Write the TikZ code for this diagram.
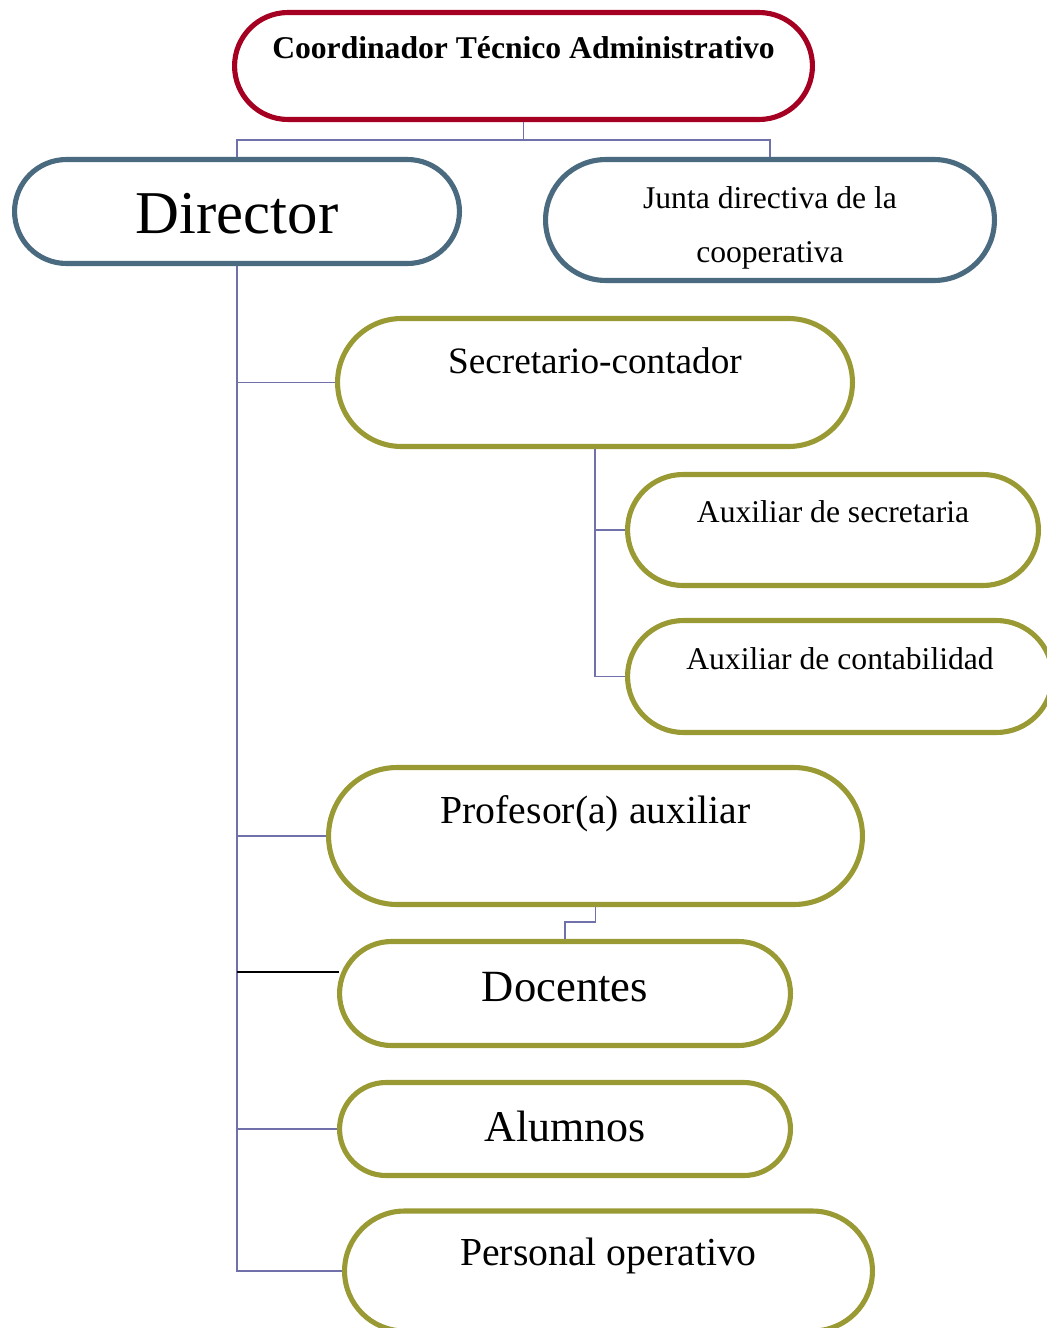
\documentclass[tikz,border=0pt]{standalone}
\usepackage{fontspec}
\setmainfont{Liberation Serif}
\usetikzlibrary{shapes.misc}

\definecolor{boxred}{RGB}{165,0,33}
\definecolor{boxslate}{RGB}{74,106,128}
\definecolor{boxolive}{RGB}{154,154,53}
\definecolor{linkblue}{RGB}{112,112,170}

\begin{document}
\begin{tikzpicture}[
    x=0.02cm,
    y=-0.02cm,
    box/.style={rounded rectangle, draw=#1, line width=2.9pt, fill=white, inner sep=0pt},
    link/.style={draw=linkblue, line width=1pt},
    txt/.style={font=\fontsize{#1}{#1}\selectfont},
]
    \useasboundingbox (0,0) rectangle (1047,1328);

    \node[box=boxred,   minimum width=11.56cm, minimum height=2.14cm,
          label={[font=\fontsize{18}{18}\selectfont\bfseries, yshift=0.36cm]center:Coordinador Técnico Administrativo}]
          (coord) at (523.5,66) {};
    \node[box=boxslate, minimum width=8.9cm,   minimum height=2.08cm,
          label={[txt=34.6, yshift=-0.04cm]center:Director}]
          (director) at (237,211.5) {};
    \node[box=boxslate, minimum width=8.98cm,  minimum height=2.42cm,
          label={[font=\fontsize{18}{31}\selectfont, align=center, yshift=-0.16cm]center:Junta directiva de la\\cooperativa}]
          (junta) at (770,220) {};

    \node[box=boxolive, minimum width=10.3cm,  minimum height=2.56cm,
          label={[txt=21.2, yshift=0.44cm]center:Secretario-contador}]
          (secretario) at (595,382.5) {};
    \node[box=boxolive, minimum width=8.22cm,  minimum height=2.22cm,
          label={[txt=18, yshift=0.36cm]center:Auxiliar de secretaria}]
          (auxsec) at (833,530) {};
    \node[box=boxolive, minimum width=8.5cm,   minimum height=2.24cm,
          label={[txt=18, yshift=0.36cm]center:Auxiliar de contabilidad}]
          (auxcont) at (840,676.5) {};
    \node[box=boxolive, minimum width=10.68cm, minimum height=2.74cm,
          label={[txt=22.6, yshift=0.44cm]center:Profesor(a) auxiliar}]
          (profesor) at (595.5,836) {};
    \node[box=boxolive, minimum width=9.02cm,  minimum height=2.08cm,
          label={[txt=25.4, yshift=0.12cm]center:Docentes}]
          (docentes) at (565,993.5) {};
    \node[box=boxolive, minimum width=9.02cm,  minimum height=1.86cm,
          label={[txt=25, yshift=0.06cm]center:Alumnos}]
          (alumnos) at (565,1129) {};
    \node[box=boxolive, minimum width=10.56cm, minimum height=2.4cm,
          label={[txt=22.6, yshift=0.3cm]center:Personal operativo}]
          (personal) at (608.5,1271) {};

    \coordinate (docin) at (339,972);

    % top level
    \draw[link] (coord.south) -- ++(0,18) -| (director.north);
    \draw[link] (coord.south) -- ++(0,18) -| (junta.north);

    % director branches
    \draw[link] (director.south) |- (secretario.west);
    \draw[link] (director.south) |- (profesor.west);
    \draw[link] (director.south) |- (alumnos.west);
    \draw[link] (director.south) |- (personal.west);
    \draw[line width=1pt] (director.south |- docin) -- (docin);

    % secretario branches
    \draw[link] (secretario.south) |- (auxsec.west);
    \draw[link] (secretario.south) |- (auxcont.west);

    \draw[link] (profesor.south) -- ++(0,15) -| (docentes.north);
\end{tikzpicture}
\end{document}
